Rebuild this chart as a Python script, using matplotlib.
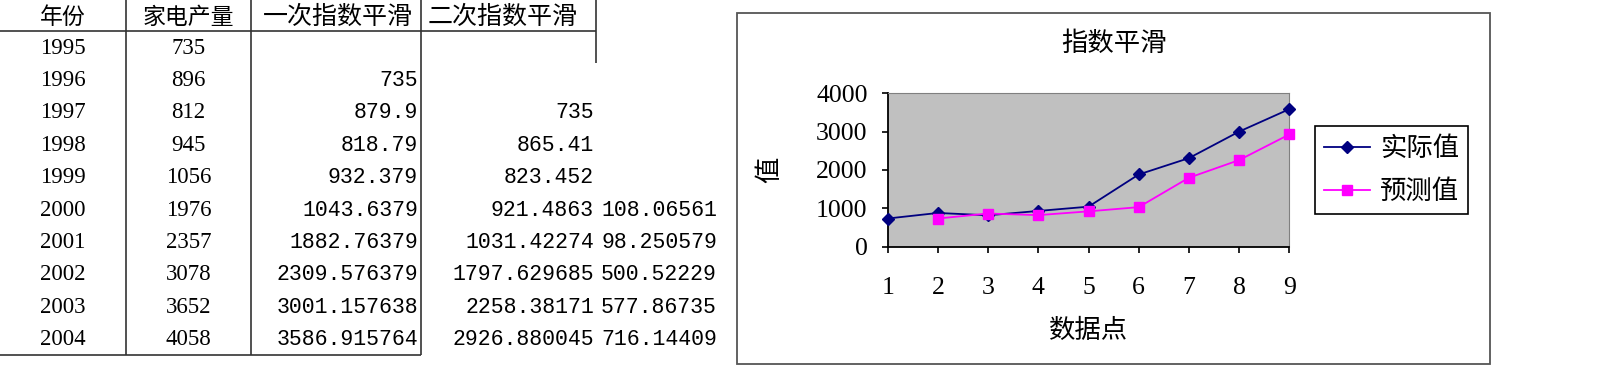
import numpy as np
import matplotlib
matplotlib.use('Agg')
import matplotlib.pyplot as plt
from matplotlib.patches import Rectangle

# 表格数据
headers = ['年份', '家电产量', '一次指数平滑', '二次指数平滑']
years = [1995, 1996, 1997, 1998, 1999, 2000, 2001, 2002, 2003, 2004]
production = [735, 896, 812, 945, 1056, 1976, 2357, 3078, 3652, 4058]
single_smooth = [None, 735, 879.9, 818.79, 932.379, 1043.6379, 1882.76379,
                 2309.576379, 3001.157638, 3586.915764]
double_smooth = [None, None, 735, 865.41, 823.452, 921.4863, 1031.42274,
                 1797.629685, 2258.38171, 2926.880045]
extra_col = [None, None, None, None, None, 108.06561, 98.250579,
             500.52229, 577.86735, 716.14409]

# 图表数据（数据点 1-9）
points = list(range(1, 10))
actual = single_smooth[1:]
forecast = [np.nan if v is None else v for v in double_smooth[1:]]
series_names = ['实际值', '预测值']

CJK = ['Noto Sans CJK SC', 'DejaVu Sans']
SERIF = 'Liberation Serif'
MONO = 'Liberation Mono'


def fmt(v):
    if v is None:
        return ''
    s = str(float(v))
    return s[:-2] if s.endswith('.0') else s


fig = plt.figure(figsize=(16, 3.86), dpi=100)
fig.patch.set_facecolor('white')

# 像素坐标的底层画布，用于表格和图表外框
tab = fig.add_axes([0, 0, 1, 1])
tab.set_xlim(0, 1600)
tab.set_ylim(386, 0)
tab.axis('off')

# 表格线
line_c = '#333333'
tab.vlines([126, 251, 421], 0, 355, color=line_c, lw=1.2)
tab.vlines(596, 0, 63, color=line_c, lw=1.2)
tab.hlines(31, 0, 596, color=line_c, lw=1.2)
tab.hlines(355, 0, 421, color=line_c, lw=1.2)

# 表头
head_x = [63, 188.5, 338, 503]
head_size = [16.5, 16.5, 18, 18]
for x, h, fs in zip(head_x, headers, head_size):
    tab.text(x, 17, h, ha='center', va='center', fontsize=fs, family=CJK)

# 表格内容
row_y = 48 + 32.4 * np.arange(len(years))
for i, y in enumerate(row_y):
    tab.text(63, y, str(years[i]), ha='center', va='center', fontsize=16.5, family=SERIF)
    tab.text(188.5, y, str(production[i]), ha='center', va='center', fontsize=16.5, family=SERIF)
    tab.text(418, y, fmt(single_smooth[i]), ha='right', va='center', fontsize=15.5, family=MONO)
    tab.text(594, y, fmt(double_smooth[i]), ha='right', va='center', fontsize=15.5, family=MONO)
    tab.text(717, y, fmt(extra_col[i]), ha='right', va='center', fontsize=15.5, family=MONO)

# 图表外框
tab.add_patch(Rectangle((737, 13.3), 753, 350.7, fill=False, edgecolor='#555555', lw=1.3))
tab.text(1113.5, 43, '指数平滑', ha='center', va='center', fontsize=19, family=CJK)

# 折线图
ax = fig.add_axes([887.7 / 1600, 1 - 246.7 / 386, (1289.3 - 887.7) / 1600, (246.7 - 93.3) / 386])
ax.set_facecolor('#C0C0C0')
ax.plot(points, actual, color='#000080', marker='D', markersize=6, lw=1.3,
        label=series_names[0], clip_on=False, zorder=3)
ax.plot(points, forecast, color='#FF00FF', marker='s', markersize=7, lw=1.3,
        label=series_names[1], clip_on=False, zorder=3)
ax.set_xlim(1, 9)
ax.set_ylim(0, 4000)
ax.set_xticks(points)
ax.set_yticks(np.arange(0, 4001, 1000))
for sp in ['top', 'right']:
    ax.spines[sp].set_color('#808080')
for sp in ['left', 'bottom']:
    ax.spines[sp].set_color('black')
    ax.spines[sp].set_linewidth(1.3)
ax.tick_params(axis='x', direction='out', length=4.5, width=1.2, pad=17)
ax.tick_params(axis='y', direction='out', length=4.5, width=1.2, pad=10)
for lab in ax.get_xticklabels() + ax.get_yticklabels():
    lab.set_fontfamily(SERIF)
    lab.set_fontsize(18.5)

ax.set_xlabel('数据点', fontsize=19, family=CJK, va='center')
ax.xaxis.set_label_coords(0.5, -(330 - 246.7) / 153.4)
ax.set_ylabel('值', fontsize=19, family=CJK, va='center', rotation=90)
ax.yaxis.set_label_coords(-(887.7 - 770) / 401.6, 0.5)

leg = ax.legend(loc='upper left', bbox_to_anchor=(1315 / 1600, 1 - 125.7 / 386),
                bbox_transform=fig.transFigure, borderaxespad=0, fancybox=False,
                edgecolor='black', framealpha=1, prop={'family': CJK, 'size': 19},
                handlelength=1.75, handletextpad=0.35, borderpad=0.35, labelspacing=0.6)
leg.get_frame().set_linewidth(1.2)

fig.savefig('out.png', dpi=100)
